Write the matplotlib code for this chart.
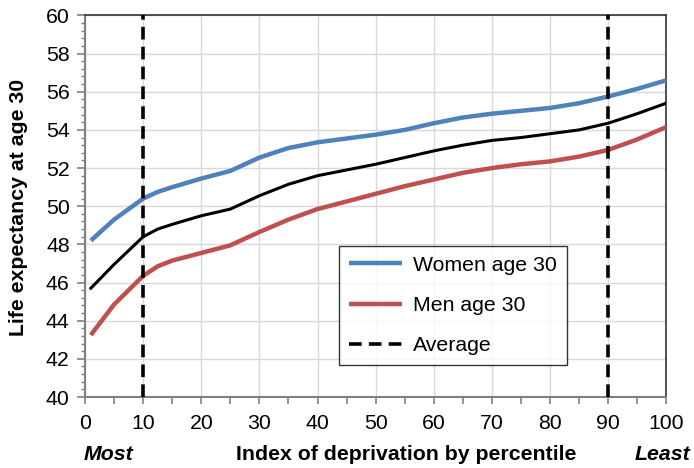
import matplotlib
matplotlib.use("Agg")
import matplotlib.pyplot as plt
from matplotlib.ticker import MultipleLocator

plt.rcParams['font.family'] = ['Liberation Sans', 'DejaVu Sans']

# percentile of deprivation index
pct = [1, 5, 10, 12.5, 15, 20, 25, 30, 35, 40, 45, 50, 55, 60, 65, 70, 75, 80, 85, 90, 95, 100]
women = [48.2, 49.3, 50.4, 50.75, 51.0, 51.45, 51.85, 52.55, 53.05, 53.35, 53.55, 53.75, 54.0,
         54.35, 54.65, 54.85, 55.0, 55.15, 55.4, 55.75, 56.15, 56.6]
men = [43.25, 44.85, 46.35, 46.85, 47.15, 47.55, 47.95, 48.65, 49.3, 49.85, 50.25, 50.65, 51.05,
       51.4, 51.75, 52.0, 52.2, 52.35, 52.6, 52.95, 53.5, 54.15]
avg = [45.7, 46.95, 48.4, 48.8, 49.05, 49.5, 49.85, 50.55, 51.15, 51.6, 51.9, 52.2, 52.55,
       52.9, 53.2, 53.45, 53.6, 53.8, 54.0, 54.35, 54.85, 55.4]
cutoffs = [10, 90]

fs = 15.3

fig = plt.figure(figsize=(6.94, 4.68), dpi=100)
ax = fig.add_axes([0.1225, 0.1517, 0.8375, 0.8153])

ax.plot(pct, women, color='#4F81BD', lw=3.2, label='Women age 30', solid_capstyle='butt', zorder=3)
ax.plot(pct, men, color='#C0504D', lw=3.2, label='Men age 30', solid_capstyle='butt', zorder=3)
ax.plot(pct, avg, color='black', lw=2.2, zorder=3)
for i, c in enumerate(cutoffs):
    ax.axvline(c, color='black', lw=2.6, ls=(0, (3.5, 2)), zorder=4,
               label='Average' if i == 0 else None)

ax.set_xlim(0, 100)
ax.set_ylim(40, 60)
ax.xaxis.set_major_locator(MultipleLocator(10))
ax.xaxis.set_minor_locator(MultipleLocator(5))
ax.yaxis.set_major_locator(MultipleLocator(2))
ax.yaxis.set_minor_locator(MultipleLocator(0.4))
ax.grid(True, which='major', color='#d9d9d9', lw=1)
ax.set_axisbelow(True)

ax.tick_params(which='both', direction='out', color='#808080', labelsize=fs)
ax.tick_params(axis='y', which='major', length=6, width=1.2, pad=5)
ax.tick_params(axis='y', which='minor', length=3, width=1)
ax.tick_params(axis='x', which='both', length=5, width=1.2, pad=7)
for s in ['left', 'bottom']:
    ax.spines[s].set_color('#808080')
    ax.spines[s].set_linewidth(1.5)
for s in ['top', 'right']:
    ax.spines[s].set_color('#333333')
    ax.spines[s].set_linewidth(1.2)

leg = ax.legend(loc='lower left', bbox_to_anchor=(0.437, 0.084), fontsize=fs,
                frameon=True, fancybox=False, edgecolor='black', handlelength=2.5,
                labelspacing=1.0, borderpad=0.45, handletextpad=0.55, borderaxespad=0)
leg.get_frame().set_linewidth(1.0)

fig.text(0.026, 0.557, 'Life expectancy at age 30', rotation=90, fontsize=fs,
         fontweight='bold', ha='center', va='center')
fig.text(0.586, 0.028, 'Index of deprivation by percentile', fontsize=fs,
         fontweight='bold', ha='center', va='center')
fig.text(0.156, 0.028, 'Most', fontsize=fs, fontweight='bold', style='italic',
         ha='center', va='center')
fig.text(0.955, 0.028, 'Least', fontsize=fs, fontweight='bold', style='italic',
         ha='center', va='center')

fig.savefig('out.png', dpi=100)
